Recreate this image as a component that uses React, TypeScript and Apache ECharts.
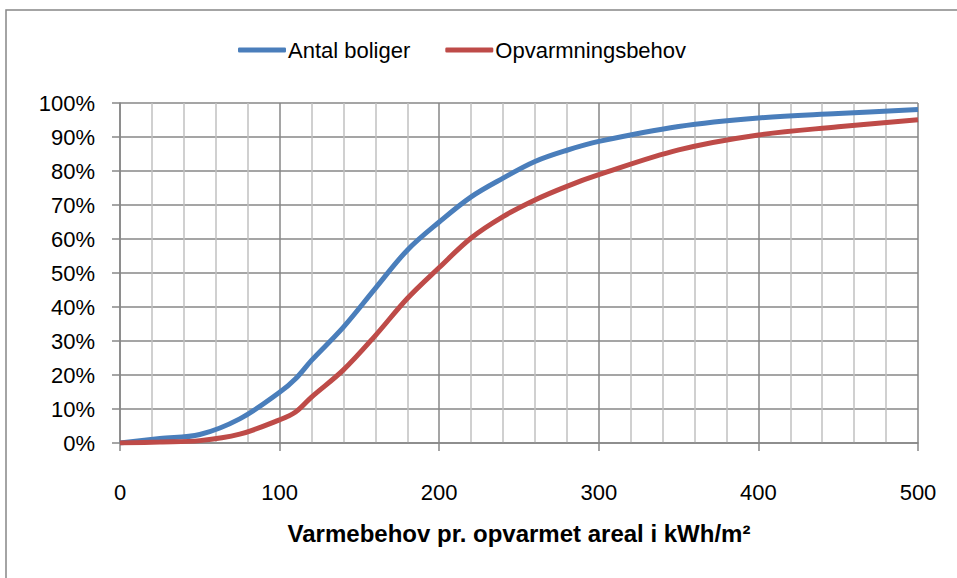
import React, { useEffect, useRef } from "react";
import * as echarts from "echarts";

const xValues = [0, 25, 50, 75, 100, 110, 120, 140, 160, 180, 200, 220, 240, 260, 280, 300, 350, 400, 450, 500];
const antalBoliger = [0, 1.3, 2.5, 7.1, 14.9, 18.9, 24.3, 34.1, 45.5, 56.7, 65.0, 72.4, 77.9, 82.8, 86.1, 88.7, 93.1, 95.6, 96.9, 98.1];
const opvarmningsbehov = [0, 0.3, 0.7, 2.6, 6.8, 9.1, 13.5, 21.5, 31.6, 42.5, 51.6, 60.3, 66.6, 71.5, 75.5, 78.9, 86.2, 90.6, 93.0, 95.1];
const seriesNames = ["Antal boliger", "Opvarmningsbehov"];
const xAxisTitle = "Varmebehov pr. opvarmet areal i kWh/m²";

const FONT = "'Liberation Sans', Arial, sans-serif";

export default function App() {
  const ref = useRef<HTMLDivElement>(null);
  useEffect(() => {
    document.body.style.margin = "0";
    const chart = echarts.init(ref.current!, null, { renderer: "svg" });
    const toPairs = (ys: number[]) => xValues.map((x, i) => [x, ys[i] / 100]);
    chart.setOption({
      animation: false,
      backgroundColor: "#ffffff",
      textStyle: { fontFamily: FONT },
      graphic: [
        {
          type: "rect",
          shape: { x: 6, y: 10, width: 1000, height: 1000 },
          style: { fill: "none", stroke: "#878787", lineWidth: 1.5 },
          silent: true,
        },
      ],
      legend: {
        left: 233,
        top: 34,
        icon: "roundRect",
        itemWidth: 48,
        itemHeight: 5,
        itemGap: 35,
        textStyle: { fontSize: 22, color: "#000", fontFamily: FONT, padding: [0, 0, 0, -3] },
        data: seriesNames,
      },
      grid: { left: 120, right: 39, top: 103, bottom: 135, containLabel: false },
      xAxis: {
        type: "value",
        min: 0,
        max: 500,
        interval: 100,
        name: xAxisTitle,
        nameLocation: "middle",
        nameGap: 78,
        nameTextStyle: { fontSize: 24, fontWeight: "bold", color: "#000", fontFamily: FONT },
        axisLine: { show: true, lineStyle: { color: "#878787", width: 1.5 } },
        axisTick: { show: true, length: 8, lineStyle: { color: "#878787", width: 1.5 } },
        axisLabel: { fontSize: 22, color: "#000", margin: 38, fontFamily: FONT },
        splitLine: { show: true, lineStyle: { color: "#878787", width: 1.5 } },
        minorTick: { show: false, splitNumber: 5 },
        minorSplitLine: { show: true, lineStyle: { color: "#c0c0c0", width: 1.5 } },
      },
      yAxis: {
        type: "value",
        min: 0,
        max: 1,
        interval: 0.1,
        axisLine: { show: true, lineStyle: { color: "#878787", width: 1.5 } },
        axisTick: { show: true, length: 8, lineStyle: { color: "#878787", width: 1.5 } },
        axisLabel: {
          fontSize: 22,
          color: "#000",
          margin: 25,
          fontFamily: FONT,
          formatter: (v: number) => `${Math.round(v * 100)}%`,
        },
        splitLine: { show: true, lineStyle: { color: "#878787", width: 1.5 } },
      },
      series: [
        {
          name: seriesNames[0],
          type: "line",
          data: toPairs(antalBoliger),
          showSymbol: false,
          symbol: "none",
          smooth: 0.35,
          lineStyle: { color: "#4a7ebb", width: 5 },
          itemStyle: { color: "#4a7ebb" },
        },
        {
          name: seriesNames[1],
          type: "line",
          data: toPairs(opvarmningsbehov),
          showSymbol: false,
          symbol: "none",
          smooth: 0.35,
          lineStyle: { color: "#be4b48", width: 5 },
          itemStyle: { color: "#be4b48" },
        },
      ],
    });
    return () => chart.dispose();
  }, []);
  return (
    <div
      ref={ref}
      style={{ position: "absolute", left: 0, top: 0, width: 957, height: 578 }}
    />
  );
}
